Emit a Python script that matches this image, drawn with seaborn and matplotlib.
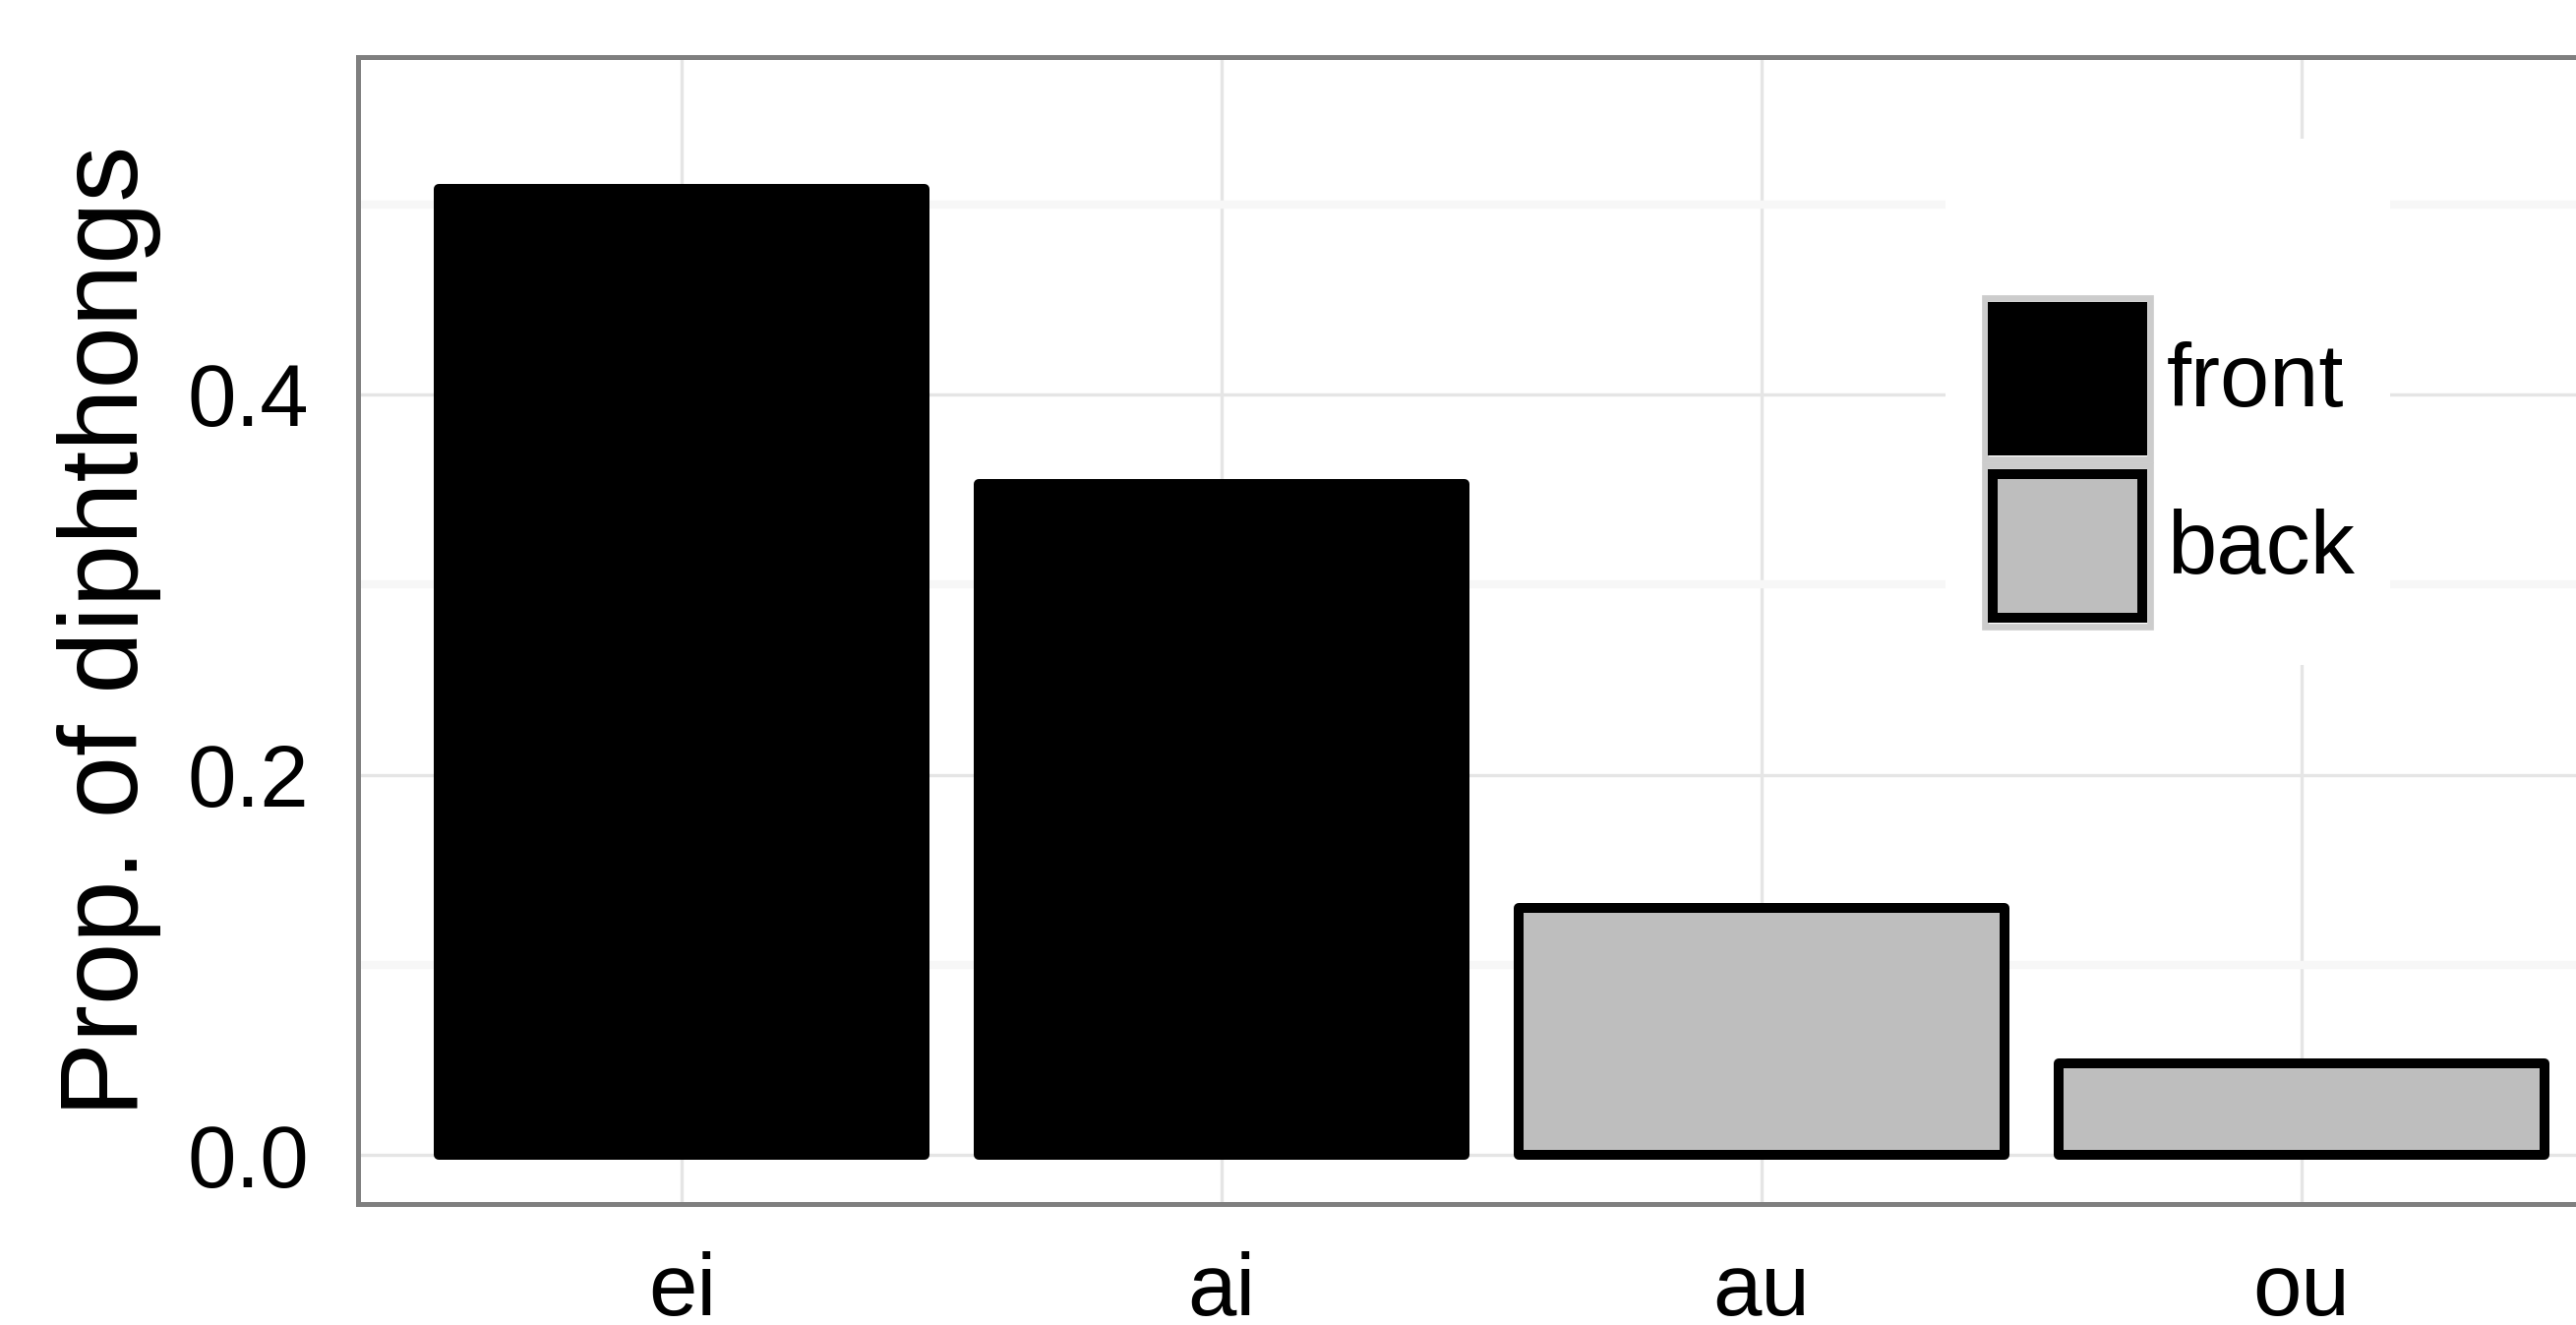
import matplotlib
matplotlib.use("Agg")
import matplotlib.pyplot as plt
import matplotlib.patches as mpatches
from matplotlib.legend_handler import HandlerTuple, HandlerPatch
import seaborn as sns
import pandas as pd

# data
vowels = ["ei", "ai", "au", "ou"]
groups = ["front", "front", "back", "back"]
props = [0.508, 0.353, 0.130, 0.048]
y_ticks = [0.0, 0.2, 0.4]
y_minor = [0.1, 0.3, 0.5]
group_order = ["front", "back"]
group_colors = {"front": "#000000", "back": "#bebebe"}

df = pd.DataFrame({"vowel": vowels, "group": groups, "prop": props})

sns.set_theme(style="white")
plt.rcParams["font.family"] = ["Liberation Sans", "DejaVu Sans"]
plt.rcParams["text.color"] = "black"
plt.rcParams["axes.labelcolor"] = "black"
plt.rcParams["xtick.color"] = "black"
plt.rcParams["ytick.color"] = "black"

fig = plt.figure(figsize=(13.095, 6.735), dpi=200)
ax = fig.add_axes([0.139, 0.0911, 0.8802, 0.8655])

sns.barplot(data=df, x="vowel", y="prop", hue="group", order=vowels,
            hue_order=group_order, palette=group_colors, dodge=False,
            width=0.9, saturation=1, edgecolor="black", linewidth=3.6,
            errorbar=None, legend=False, ax=ax)
for p in ax.patches:
    p.set_joinstyle("round")

ax.set_xlim(-0.6, len(vowels) - 0.4)
ax.set_ylim(-0.0259, 0.5771)
ax.set_yticks(y_ticks)
ax.set_yticklabels([f"{v:.1f}" for v in y_ticks])
ax.set_yticks(y_minor, minor=True)
ax.set_axisbelow(True)
ax.grid(True, which="major", color="#e5e5e5", lw=1.2)
ax.grid(True, which="minor", axis="y", color="#f7f7f7", lw=3)
ax.tick_params(axis="both", which="major", length=9, width=3, color="black",
               labelsize=32, labelcolor="black")
ax.tick_params(axis="y", which="minor", length=0)
ax.tick_params(axis="x", pad=8)
ax.tick_params(axis="y", pad=9)
for s in ax.spines.values():
    s.set_color("#7f7f7f")
    s.set_linewidth(1.8)
    s.set_visible(True)

ax.set_xlabel("")
ax.set_ylabel("Prop. of diphthongs", fontsize=41, color="black", labelpad=9.5)


# legend keys: grey key frame with the bar swatch inset
def make_inset(d):
    def f(legend, orig_handle, xdescent, ydescent, width, height, fontsize):
        return mpatches.Rectangle((-xdescent + d, -ydescent + d),
                                  width - 2 * d, height - 2 * d)
    return f


handles = []
hmap = {}
for g in group_order:
    frame = mpatches.Patch(facecolor="white", edgecolor="#cccccc", lw=2.4,
                           joinstyle="round")
    swatch = mpatches.Patch(facecolor=group_colors[g], edgecolor="black", lw=3.6,
                            joinstyle="miter")
    hmap[frame] = HandlerPatch(patch_func=make_inset(1.2))
    hmap[swatch] = HandlerPatch(patch_func=make_inset(4.2))
    handles.append((frame, swatch))
hmap[tuple] = HandlerTuple(ndivide=1, pad=0)

leg = ax.legend(handles, group_order, handler_map=hmap, loc="upper left",
                bbox_to_anchor=(0.7002, 0.9292), borderaxespad=0, fontsize=32.5,
                title=" ", title_fontsize=47.5, handlelength=1.94, handleheight=2.52,
                labelspacing=0.0, handletextpad=0.15, borderpad=0.4,
                frameon=True, fancybox=False)
leg.get_frame().set_facecolor("white")
leg.get_frame().set_edgecolor("none")
leg.get_frame().set_alpha(1)

fig.savefig("out.png", dpi=200)
